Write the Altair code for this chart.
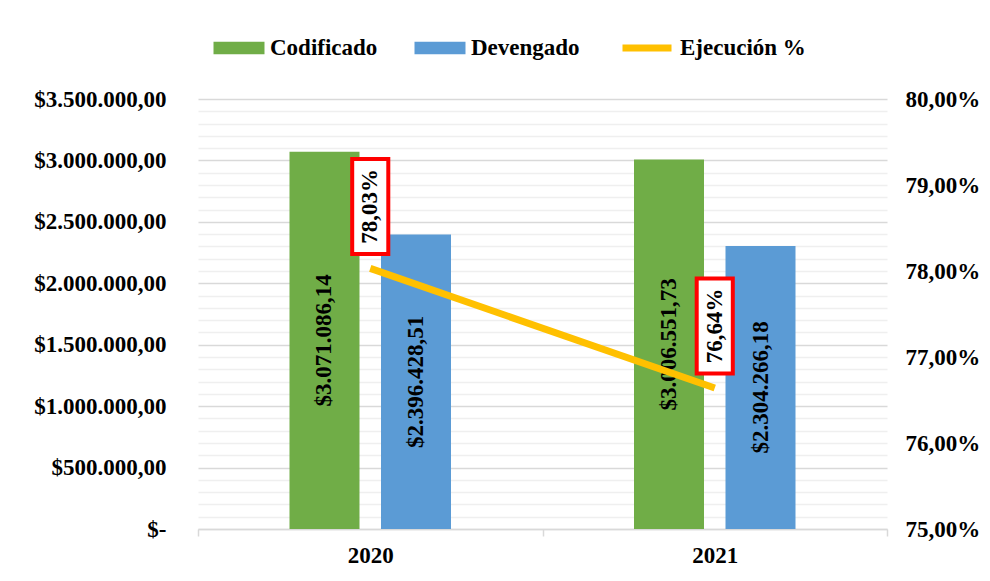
import altair as alt
import pandas as pd

years = ["2020", "2021"]
series = ["Codificado", "Devengado"]
codificado = [3071086.14, 3006551.73]
devengado = [2396428.51, 2304266.18]
ejecucion = [0.7803, 0.7664]
line_name = "Ejecución %"

left_ticks = [i * 100000 for i in range(0, 36)]
right_ticks = [0.75, 0.76, 0.77, 0.78, 0.79, 0.80]

bars_df = pd.DataFrame({
    "year": years * 2,
    "series": [series[0]] * 2 + [series[1]] * 2,
    "value": codificado + devengado,
})
line_df = pd.DataFrame({"year": years, "pct": ejecucion, "serie": [line_name] * 2})

FONT = "Liberation Serif"
FS = 23

xscale = alt.Scale(paddingInner=0, paddingOuter=0)
xaxis = alt.Axis(title=None, labelAngle=0, domainColor="#D9D9D9", domainWidth=1.5,
                 tickColor="#D9D9D9", tickWidth=1.5, tickSize=7, tickBand="extent",
                 labelPadding=8, grid=False)
x = alt.X("year:N", scale=xscale, axis=xaxis)
xoff = alt.XOffset("series:N", scale=alt.Scale(paddingInner=0.235, paddingOuter=1))

yaxis_left = alt.Axis(
    title=None, values=left_ticks, format="$,.2f",
    labelExpr="datum.value % 500000 === 0 ? (datum.value === 0 ? '$-\u00a0' : datum.label) : ''",
    labelOverlap=False, ticks=False, tickSize=0, domain=False, labelPadding=32,
    gridColor={"condition": {"test": "datum.value % 500000 === 0", "value": "#D9D9D9"}, "value": "#EFEFEF"},
    gridWidth=1.5,
)
yscale_left = alt.Scale(domain=[0, 3500000], nice=False)

bars = alt.Chart(bars_df).mark_bar().encode(
    x=x, xOffset=xoff,
    y=alt.Y("value:Q", scale=yscale_left, axis=yaxis_left),
    color=alt.Color("series:N", scale=alt.Scale(domain=series, range=["#70AD47", "#5B9BD5"]),
                    legend=alt.Legend(title=None, orient="none", direction="horizontal",
                                      legendX=28, legendY=-64,
                                      symbolType="M-2,-0.5H2V0.5H-2Z", symbolSize=650,
                                      symbolStrokeWidth=0, labelOffset=18, columnPadding=36,
                                      padding=0)),
)
bar_labels = alt.Chart(bars_df).transform_calculate(mid="datum.value / 2").mark_text(
    angle=270, font=FONT, fontSize=FS, fontWeight="bold", color="black",
    align="center", baseline="middle",
).encode(
    x=x, xOffset=xoff,
    y=alt.Y("mid:Q", scale=yscale_left, axis=yaxis_left),
    text=alt.Text("value:Q", format="$,.2f"),
)
left = alt.layer(bars, bar_labels)

yscale_right = alt.Scale(domain=[0.75, 0.80], nice=False, zero=False)
yaxis_right = alt.Axis(title=None, orient="right", values=right_ticks, format=".2%",
                       grid=False, domain=False, ticks=False, tickSize=0, labelPadding=18,
                       labelOverlap=False)
y_r = alt.Y("pct:Q", scale=yscale_right, axis=yaxis_right)

line = alt.Chart(line_df).mark_line(strokeWidth=7).encode(
    x=x, y=y_r,
    stroke=alt.Stroke("serie:N", scale=alt.Scale(domain=[line_name], range=["#FFC000"]),
                      legend=alt.Legend(title=None, orient="none", direction="horizontal",
                                        legendX=421, legendY=-79,
                                        symbolType="stroke", symbolSize=2401,
                                        symbolStrokeWidth=7, labelOffset=5, padding=0)),
)
boxes = alt.Chart(line_df).mark_point(
    shape="M-0.38,-1H0.38V1H-0.38Z", size=9025, filled=True, fill="white",
    stroke="#FF0000", strokeWidth=4, opacity=1, yOffset=-62,
).encode(x=x, y=y_r)
pct_text = alt.Chart(line_df).mark_text(
    angle=270, font=FONT, fontSize=FS, fontWeight="bold", color="black",
    align="center", baseline="middle", yOffset=-62,
).encode(x=x, y=y_r, text=alt.Text("pct:Q", format=".2%"))
right = alt.layer(line, boxes, pct_text)

chart = alt.layer(left, right).resolve_scale(y="independent", color="independent").properties(
    width=689, height=430,
    padding={"left": 190, "top": 91, "right": 95, "bottom": 50},
    autosize=alt.AutoSizeParams(type="none"),
).configure(
    locale={"number": {"decimal": ",", "thousands": ".", "grouping": [3], "currency": ["$", ""]}},
).configure_axis(
    labelFont=FONT, labelFontSize=FS, labelFontWeight="bold", labelColor="black",
).configure_legend(
    labelFont=FONT, labelFontSize=FS, labelFontWeight="bold", labelColor="black",
).configure_view(stroke=None)

chart.save("out.html", embed_options={"renderer": "svg", "actions": False})
